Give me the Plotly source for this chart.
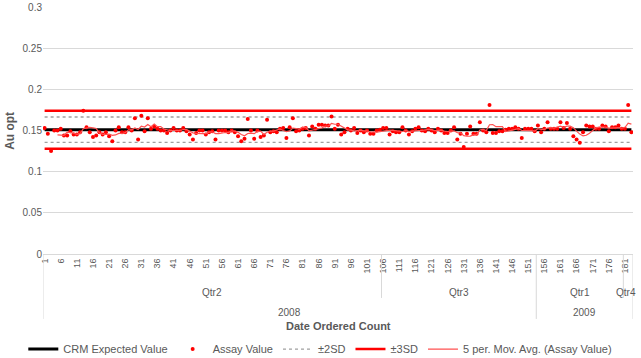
import plotly.graph_objects as go
import numpy as np

# ---------------- data ----------------
count = list(range(1, 184))
assay = [
    0.153, 0.146, 0.125, 0.150, 0.150, 0.152, 0.144, 0.144, 0.149, 0.145,
    0.145, 0.148, 0.174, 0.154, 0.148, 0.142, 0.144, 0.148, 0.145, 0.148,
    0.143, 0.137, 0.150, 0.154, 0.148, 0.148, 0.154, 0.150, 0.165, 0.139,
    0.168, 0.149, 0.165, 0.152, 0.155, 0.152, 0.150, 0.150, 0.147, 0.150,
    0.153, 0.150, 0.150, 0.153, 0.149, 0.145, 0.139, 0.147, 0.150, 0.150,
    0.145, 0.148, 0.149, 0.139, 0.150, 0.150, 0.150, 0.148, 0.150, 0.148,
    0.143, 0.137, 0.140, 0.164, 0.150, 0.140, 0.150, 0.142, 0.144, 0.163,
    0.148, 0.149, 0.148, 0.152, 0.153, 0.141, 0.154, 0.165, 0.149, 0.150,
    0.152, 0.153, 0.144, 0.155, 0.152, 0.157, 0.157, 0.156, 0.156, 0.167,
    0.152, 0.157, 0.145, 0.148, 0.152, 0.150, 0.153, 0.147, 0.150, 0.148,
    0.150, 0.146, 0.146, 0.150, 0.151, 0.153, 0.153, 0.145, 0.149, 0.148,
    0.148, 0.154, 0.150, 0.145, 0.149, 0.152, 0.154, 0.150, 0.149, 0.152,
    0.150, 0.148, 0.152, 0.150, 0.147, 0.147, 0.150, 0.154, 0.139, 0.146,
    0.130, 0.146, 0.155, 0.146, 0.146, 0.160, 0.150, 0.148, 0.181, 0.147,
    0.147, 0.149, 0.149, 0.151, 0.152, 0.152, 0.154, 0.152, 0.141, 0.152,
    0.152, 0.152, 0.149, 0.156, 0.148, 0.152, 0.160, 0.152, 0.152, 0.152,
    0.160, 0.153, 0.159, 0.152, 0.143, 0.139, 0.135, 0.148, 0.156, 0.155,
    0.155, 0.152, 0.152, 0.156, 0.155, 0.149, 0.154, 0.154, 0.156, 0.152,
    0.152, 0.181, 0.148,
]
crm_expected = 0.151
sd = 0.0077

tick_vals = [1, 6, 11, 16, 21, 26, 31, 36, 41, 46, 51, 56, 61, 66, 71, 76, 81, 86,
             91, 96, 101, 106, 111, 116, 121, 126, 131, 136, 141, 146, 151, 156,
             161, 166, 171, 176, 181]
tick_text = [str(v) for v in tick_vals]

quarter_labels = ["Qtr2", "Qtr3", "Qtr1", "Qtr4"]
quarter_first = [1, 106, 154, 181]
quarter_last = [105, 153, 180, 183]
year_labels = ["2008", "2009"]
year_first = [1, 154]
year_last = [153, 183]

# ---------------- figure ----------------
n = len(count)
crm_line = [crm_expected] * n
x2 = count + [None] + count
sd2 = [crm_expected + 2 * sd] * n + [None] + [crm_expected - 2 * sd] * n
sd3 = [crm_expected + 3 * sd] * n + [None] + [crm_expected - 3 * sd] * n
a = np.array(assay)
mov = np.convolve(a, np.ones(5) / 5, mode="valid")
mov_x = count[4:]

GREY = "#595959"
FONT = "Liberation Sans"
X0, X1 = 0.5, 183.5

fig = go.Figure()
fig.add_trace(go.Scatter(x=x2, y=sd2, mode="lines", name="±2SD",
                         line=dict(color="#a0a0a0", width=1.3, dash="dot"),
                         legendrank=3))
fig.add_trace(go.Scatter(x=x2, y=sd3, mode="lines", name="±3SD",
                         line=dict(color="#ff0000", width=2.5), legendrank=4))
fig.add_trace(go.Scatter(x=count, y=crm_line, mode="lines", name="CRM Expected Value",
                         line=dict(color="#000000", width=3), legendrank=1))
fig.add_trace(go.Scatter(x=count, y=assay, mode="markers", name="Assay Value",
                         marker=dict(color="#ff0000", size=4, symbol="circle"),
                         legendrank=2))
fig.add_trace(go.Scatter(x=mov_x, y=mov, mode="lines",
                         name="5 per. Mov. Avg. (Assay Value)",
                         line=dict(color="#ff5050", width=1.2), legendrank=5))

fig.update_layout(
    width=641, height=358,
    margin=dict(l=43, r=8, t=7, b=104, autoexpand=False),
    plot_bgcolor="white", paper_bgcolor="white",
    font=dict(family=FONT, color=GREY, size=10),
    showlegend=True,
    legend=dict(orientation="h", x=0.47, xanchor="center", xref="paper",
                y=-0.385, yanchor="middle", yref="paper",
                font=dict(size=11, color=GREY), itemwidth=30,
                tracegroupgap=0),
)
fig.update_xaxes(range=[X0, X1], tickmode="array", tickvals=tick_vals,
                 ticktext=tick_text, tickangle=-90, tickfont=dict(size=9, color=GREY),
                 showgrid=False, zeroline=False, showline=True, linecolor="#d9d9d9",
                 linewidth=1, ticks="", automargin=False)
fig.update_yaxes(range=[0, 0.3], dtick=0.05, showgrid=True, gridcolor="#d9d9d9",
                 zeroline=False, showline=False, ticks="", automargin=False,
                 tickfont=dict(size=10, color=GREY))

fig.add_annotation(x=-0.057, y=0.5, xref="paper", yref="paper", text="<b>Au opt</b>",
                   textangle=-90, showarrow=False, font=dict(size=12, color=GREY),
                   xanchor="center", yanchor="middle")

# hierarchical category axis: separators and group labels
sep_short = -0.178
sep_long = -0.263
bounds = [(X0, sep_long)]
for q_last in quarter_last:
    b = q_last + 0.5
    is_year = any(y == q_last for y in year_last)
    bounds.append((b, sep_long if is_year else sep_short))
for xb, yb in bounds:
    fig.add_shape(type="line", xref="x", yref="paper", x0=xb, x1=xb, y0=0, y1=yb,
                  line=dict(color="#d9d9d9", width=1))


def to_paper(v):
    return (v - X0) / (X1 - X0)


for lab, f, l in zip(quarter_labels, quarter_first, quarter_last):
    is_last = l == quarter_last[-1]
    fig.add_annotation(x=1.008 if is_last else to_paper((f + l) / 2), y=-0.154,
                       xref="paper", yref="paper", text=lab,
                       showarrow=False, font=dict(size=10, color=GREY),
                       xanchor="right" if is_last else "center", yanchor="middle")
for lab, f, l in zip(year_labels, year_first, year_last):
    fig.add_annotation(x=to_paper((f + l) / 2), y=-0.235, xref="paper", yref="paper",
                       text=lab, showarrow=False, font=dict(size=10, color=GREY),
                       xanchor="center", yanchor="middle")
fig.add_annotation(x=0.5, y=-0.292, xref="paper", yref="paper",
                   text="<b>Date Ordered Count</b>", showarrow=False,
                   font=dict(size=11, color=GREY), xanchor="center", yanchor="middle")

fig.write_html("out.html", config={"displayModeBar": False},
               post_script="document.body.style.margin='0';"
                           "document.body.style.overflow='hidden';")
